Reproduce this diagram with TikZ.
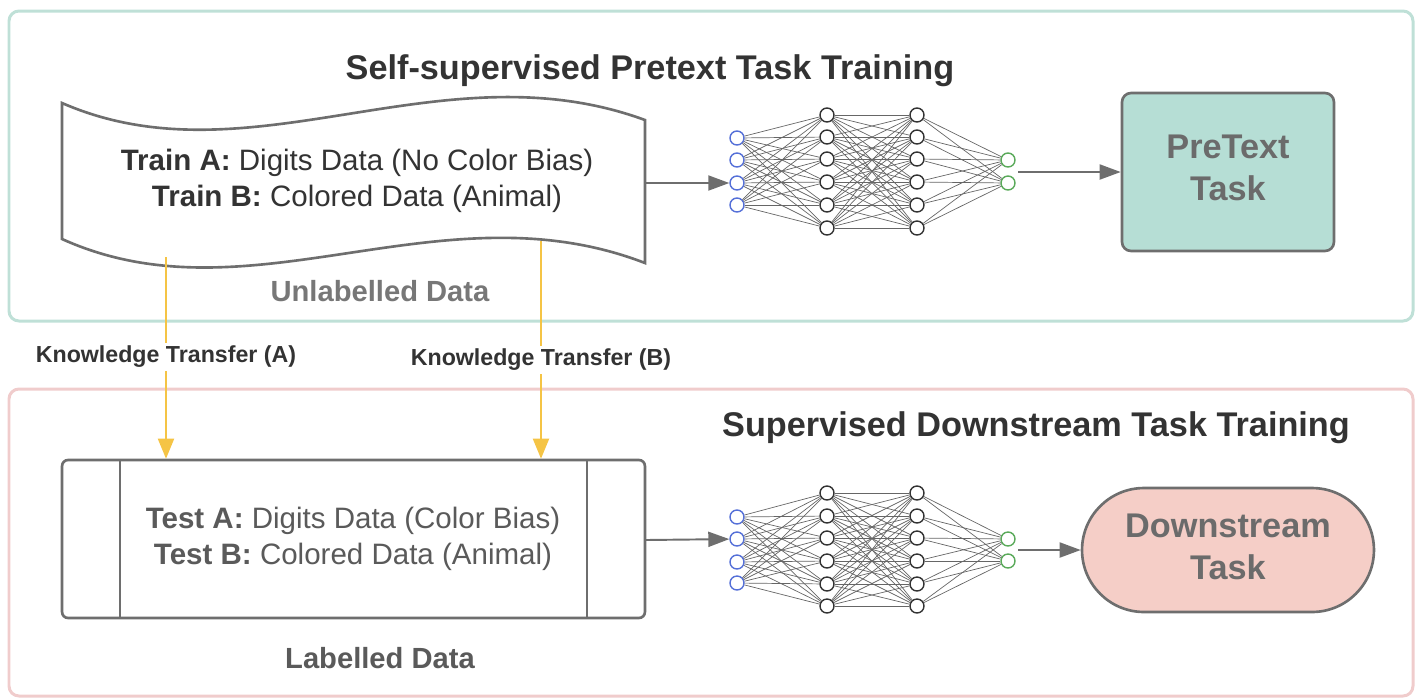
\documentclass[tikz,border=0pt]{standalone}
\usepackage{fontspec}
\setmainfont{Liberation Sans}
\usetikzlibrary{arrows.meta,calc}
\definecolor{tealline}{HTML}{BFE0D7}
\definecolor{pinkline}{HTML}{F0CCCC}
\definecolor{pretextfill}{HTML}{B6DED5}
\definecolor{downfill}{HTML}{F5CEC7}
\definecolor{goldline}{HTML}{F5C445}
\definecolor{strokegray}{HTML}{6E6E6E}
\definecolor{textdark}{HTML}{333333}
\definecolor{textmid}{HTML}{5A5A5A}
\definecolor{textlight}{HTML}{777777}
\definecolor{inblue}{HTML}{5570D8}
\definecolor{outgreen}{HTML}{5AAA5A}
\tikzset{
  outerbox/.style={line width=1.7pt, rounded corners=0.2cm},
  titletext/.style={font=\fontsize{19.5}{23}\selectfont\bfseries, text=textdark},
  bodytext/.style={font=\fontsize{16.8}{20.5}\selectfont, align=center},
  lbltext/.style={font=\fontsize{16.6}{20}\selectfont\bfseries, text=textlight},
  ktext/.style={font=\fontsize{13.2}{16}\selectfont\bfseries, text=textdark, fill=white, inner sep=2pt},
  tasktext/.style={font=\fontsize{19.5}{24}\selectfont\bfseries, text=textmid!90, align=center},
  flowarrow/.style={-{Triangle[length=0.42cm,width=0.3cm]}, draw=strokegray, line width=1.1pt},
  goldarrow/.style={-{Triangle[length=0.4cm,width=0.32cm]}, draw=goldline, line width=1.1pt},
  neuron/.style={circle, draw, line width=0.8pt, fill=white, minimum size=0.28cm, inner sep=0pt},
  nin/.style={neuron, draw=inblue},
  nhid/.style={neuron, draw=black!80},
  nout/.style={neuron, draw=outgreen},
  nedge/.style={draw=black!60, line width=0.4pt},
}
\begin{document}
\begin{tikzpicture}[x=0.02cm, y=-0.02cm]
\useasboundingbox (0,0) rectangle (1418,698);
% outer boxes
\draw[outerbox, draw=tealline] (9,11) rectangle (1413,321);
\draw[outerbox, draw=pinkline] (9,389) rectangle (1413,696);
% titles
\node[titletext] (ttop) at (650,71) {Self-supervised Pretext Task Training};
\node[titletext] (tbot) at (1036,428) {Supervised Downstream Task Training};
% document (tape) shape
\draw[draw=strokegray, line width=1.5pt, fill=white]
  (62,103) .. controls (250,185) and (440,45) .. (645,120)
  -- (645,263) .. controls (440,184) and (250,324) .. (62,239) -- cycle;
\node[bodytext, text=textdark] (train) at (357,181) {\textbf{Train A:} Digits Data (No Color Bias)\\\textbf{Train B:} Colored Data (Animal)};
\node[lbltext] (unl) at (380,291) {Unlabelled Data};
\coordinate (docR) at (646,183);
\coordinate (kA) at (166,257);
\coordinate (kB) at (541,241);
% test box
\node[draw=strokegray, line width=1.5pt, rounded corners=0.12cm, minimum width=11.66cm, minimum height=3.16cm, fill=white] (test) at (353.5,539) {};
\draw[draw=strokegray, line width=1.5pt] (120,460) -- (120,618);
\draw[draw=strokegray, line width=1.5pt] (587,460) -- (587,618);
\node[bodytext, text=textmid] (testtxt) at (353,539) {\textbf{Test A:} Digits Data (Color Bias)\\\textbf{Test B:} Colored Data (Animal)};
\node[lbltext, text=textmid] (lab) at (380,658) {Labelled Data};
\coordinate (testR) at (646,540);
% knowledge transfer arrows
\draw[goldarrow] (kA) -- (test.north -| kA);
\draw[goldarrow] (kB) -- (test.north -| kB);
\node[ktext] (kta) at (166,357) {Knowledge Transfer (A)};
\node[ktext] (ktb) at (541,360) {Knowledge Transfer (B)};
% top network
\foreach \i/\y in {1/138,2/160,3/183,4/205} \node[nin] (tA\i) at (737,\y) {};
\foreach \i/\y in {1/115,2/137,3/159,4/182,5/205,6/228} {
  \node[nhid] (tB\i) at (827,\y) {};
  \node[nhid] (tC\i) at (917,\y) {};
}
\foreach \i/\y in {1/160,2/183} \node[nout] (tD\i) at (1008,\y) {};
\foreach \i in {1,...,4} \foreach \j in {1,...,6} \draw[nedge] (tA\i) -- (tB\j);
\foreach \i in {1,...,6} \foreach \j in {1,...,6} \draw[nedge] (tB\i) -- (tC\j);
\foreach \i in {1,...,6} \foreach \j in {1,2} \draw[nedge] (tC\i) -- (tD\j);
% bottom network
\foreach \i/\y in {1/517,2/539,3/562,4/583} \node[nin] (bA\i) at (737,\y) {};
\foreach \i/\y in {1/493,2/516,3/538,4/561,5/584,6/606} {
  \node[nhid] (bB\i) at (827,\y) {};
  \node[nhid] (bC\i) at (917,\y) {};
}
\foreach \i/\y in {1/539,2/561} \node[nout] (bD\i) at (1008,\y) {};
\foreach \i in {1,...,4} \foreach \j in {1,...,6} \draw[nedge] (bA\i) -- (bB\j);
\foreach \i in {1,...,6} \foreach \j in {1,...,6} \draw[nedge] (bB\i) -- (bC\j);
\foreach \i in {1,...,6} \foreach \j in {1,2} \draw[nedge] (bC\i) -- (bD\j);
% task boxes
\node[draw=strokegray, line width=1.5pt, fill=pretextfill, rounded corners=0.18cm, minimum width=4.24cm, minimum height=3.16cm] (pretext) at (1228,172) {};
\node[tasktext] (pretexttxt) at (1228,168) {PreText\\Task};
\node[draw=strokegray, line width=1.5pt, fill=downfill, rounded corners=1.24cm, minimum width=5.84cm, minimum height=2.48cm] (down) at (1228,550) {};
\node[tasktext] (downtxt) at (1228,547) {Downstream\\Task};
% flow arrows
\coordinate (tOut) at (1018,172);
\coordinate (bOut) at (1018,550);
\draw[flowarrow] (docR) -- (tA3);
\draw[flowarrow] (testR) -- (bA2);
\draw[flowarrow] (tOut) -- (pretext);
\draw[flowarrow] (bOut) -- (down);
\end{tikzpicture}
\end{document}
